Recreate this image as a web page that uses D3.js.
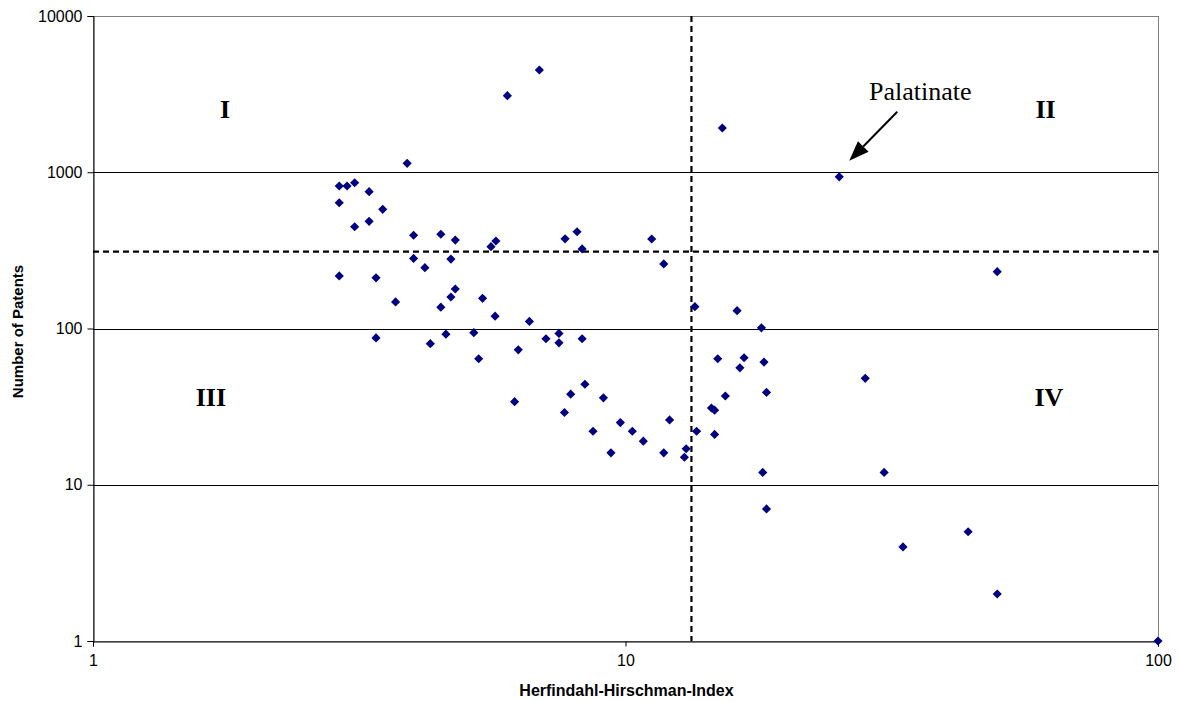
<!DOCTYPE html>
<html>
<head>
<meta charset="utf-8">
<script src="https://cdn.jsdelivr.net/npm/d3@7"></script>
<style>
  body { margin: 0; background: #fff; }
  svg { display: block; }
</style>
</head>
<body>
<svg></svg>
<script>
// Herfindahl-Hirschman-Index (x) and number of patents (y) for each region
const hhi = [
  2.90, 3.00, 3.10, 3.30, 2.90, 3.50, 3.89, 3.10, 3.30, 4.00,
  4.50, 4.79, 4.00, 4.70, 4.20, 2.90, 3.40, 3.70, 4.50, 4.70,
  4.79, 3.40, 4.30, 4.60, 5.39, 5.19, 5.69, 5.30, 5.59, 5.71,
  6.00, 6.89, 6.60, 6.29, 6.19, 7.09, 7.50, 7.50, 7.70, 8.11,
  8.29, 8.29, 7.89, 7.68, 8.39, 8.69, 9.09, 9.39, 9.78, 10.3,
  10.8, 11.2, 11.8, 11.8, 12.1, 13.0, 12.9, 13.5, 13.6, 15.2,
  14.7, 14.5, 14.7, 14.9, 15.4, 16.2, 16.4, 16.7, 18.0, 18.2,
  18.4, 18.1, 18.4, 25.2, 49.9, 28.2, 30.6, 33.2, 44.0, 49.9,
  100
];
const patents = [
  817, 817, 857, 751, 638, 579, 1141, 448, 485, 395,
  401, 368, 281, 278, 245, 217, 211, 148, 137, 159,
  179, 87, 80, 92, 156, 94, 120, 64, 334, 363,
  3090, 4512, 111, 73, 34, 86, 93, 81, 375, 416,
  323, 86, 38, 29, 44, 22, 36, 16, 25, 22,
  19, 374, 259, 16, 26, 17, 15, 138, 22, 1920,
  21, 31, 30, 64, 37, 130, 56, 65, 101, 61,
  39, 12, 7, 935, 231, 48, 12, 4, 5, 2,
  1
];

const xTicks = [1, 10, 100];
const yTicks = [1, 10, 100, 1000, 10000];
const hhiCut = 13.3;      // vertical dashed separator
const patentCut = 310;    // horizontal dashed separator

const quadrants = [
  { label: "I",   hhi: 1.77, patents: 2230 },
  { label: "II",  hhi: 61.5, patents: 2230 },
  { label: "III", hhi: 1.665, patents: 32 },
  { label: "IV",  hhi: 62.4, patents: 32 }
];
const highlight = { label: "Palatinate", hhi: 25.2, patents: 935 };

const width = 1179, height = 702;
const pLeft = 93, pRight = 1158, pTop = 16, pBottom = 641;

const svg = d3.select("svg")
  .attr("width", width)
  .attr("height", height);

const x = d3.scaleLog().domain([1, 100]).range([pLeft, pRight]);
const y = d3.scaleLog().domain([1, 10000]).range([pBottom, pTop]);

// plot frame (grey) and grid lines (black)
svg.append("rect")
  .attr("x", pLeft + 0.5).attr("y", pTop + 0.5)
  .attr("width", pRight - pLeft).attr("height", pBottom - pTop)
  .attr("fill", "none").attr("stroke", "#808080").attr("stroke-width", 1);

svg.append("g")
  .selectAll("line")
  .data(yTicks.filter(d => d > 1 && d < 10000))
  .join("line")
  .attr("x1", pLeft).attr("x2", pRight)
  .attr("y1", d => Math.round(y(d)) + 0.5).attr("y2", d => Math.round(y(d)) + 0.5)
  .attr("stroke", "#000").attr("stroke-width", 1);

// axes
const yAxis = svg.append("g")
  .attr("transform", `translate(${pLeft + 0.5},0)`)
  .call(d3.axisLeft(y).tickValues(yTicks).tickFormat(d3.format("d")).tickSizeOuter(0).tickSize(6).tickPadding(5));
const xAxis = svg.append("g")
  .attr("transform", `translate(0,${pBottom + 0.5})`)
  .call(d3.axisBottom(x).tickValues(xTicks).tickFormat(d3.format("d")).tickSizeOuter(0).tickSize(5).tickPadding(8));

[yAxis, xAxis].forEach(g => {
  g.select(".domain").attr("stroke", "#000");
  g.selectAll(".tick line").attr("stroke", "#000");
  g.selectAll("text")
    .attr("font-family", "Liberation Sans, Arial, sans-serif")
    .attr("font-size", 16)
    .attr("fill", "#000");
});

// axis titles
svg.append("text")
  .attr("x", (pLeft + pRight) / 2 + 1).attr("y", 696)
  .attr("text-anchor", "middle")
  .attr("font-family", "Liberation Sans, Arial, sans-serif")
  .attr("font-weight", "bold").attr("font-size", 16)
  .text("Herfindahl-Hirschman-Index");

svg.append("text")
  .attr("transform", `translate(23,${(pTop + pBottom) / 2 + 3}) rotate(-90)`)
  .attr("text-anchor", "middle")
  .attr("font-family", "Liberation Sans, Arial, sans-serif")
  .attr("font-weight", "bold").attr("font-size", 15)
  .text("Number of Patents");

// dashed quadrant separators
svg.append("line")
  .attr("x1", pLeft).attr("x2", pRight)
  .attr("y1", y(patentCut)).attr("y2", y(patentCut))
  .attr("stroke", "#000").attr("stroke-width", 2.2).attr("stroke-dasharray", "6,4");
svg.append("line")
  .attr("x1", x(hhiCut)).attr("x2", x(hhiCut))
  .attr("y1", pTop).attr("y2", pBottom)
  .attr("stroke", "#000").attr("stroke-width", 2.2).attr("stroke-dasharray", "6,4");

// quadrant numerals
svg.append("g")
  .selectAll("text")
  .data(quadrants)
  .join("text")
  .attr("x", d => x(d.hhi)).attr("y", d => y(d.patents))
  .attr("text-anchor", "middle")
  .attr("font-family", "Liberation Serif, Times New Roman, serif")
  .attr("font-weight", "bold").attr("font-size", 26)
  .text(d => d.label);

// diamonds
const points = hhi.map((h, i) => ({ hhi: h, patents: patents[i] }));
svg.append("g")
  .selectAll("path")
  .data(points)
  .join("path")
  .attr("transform", d => `translate(${x(d.hhi)},${y(d.patents)}) rotate(45)`)
  .attr("d", d3.symbol(d3.symbolSquare, 42))
  .attr("fill", "#000080");

// Palatinate annotation
const tipX = x(highlight.hhi) + 10, tipY = y(highlight.patents) - 16;
const startX = tipX + 48, startY = tipY - 49;
const len = Math.hypot(startX - tipX, startY - tipY);
const ux = (startX - tipX) / len, uy = (startY - tipY) / len;
const headLen = 20, headHalf = 7.5;
const bx = tipX + ux * headLen, by = tipY + uy * headLen;

svg.append("line")
  .attr("x1", startX).attr("y1", startY)
  .attr("x2", bx).attr("y2", by)
  .attr("stroke", "#000").attr("stroke-width", 2);
svg.append("path")
  .attr("d", `M${tipX},${tipY}L${bx - uy * headHalf},${by + ux * headHalf}L${bx + uy * headHalf},${by - ux * headHalf}Z`)
  .attr("fill", "#000");

svg.append("text")
  .attr("x", startX + 23).attr("y", startY - 12)
  .attr("text-anchor", "middle")
  .attr("font-family", "Liberation Serif, Times New Roman, serif")
  .attr("font-size", 26)
  .text(highlight.label);
</script>
</body>
</html>
